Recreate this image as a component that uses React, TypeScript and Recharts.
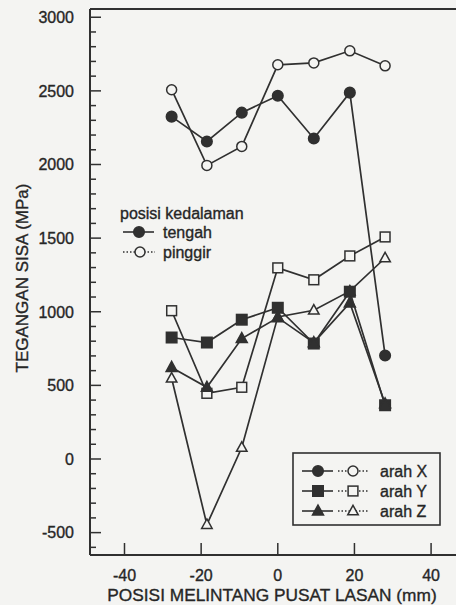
import React from 'react';
import { LineChart, Line, XAxis, YAxis, ReferenceLine, Customized } from 'recharts';

const positions = [-27.7, -18.5, -9.4, 0, 9.4, 18.8, 28];
const arahXTengah = [2325, 2156, 2352, 2467, 2177, 2488, 703];
const arahXPinggir = [2508, 1994, 2123, 2677, 2690, 2772, 2670];
const arahYTengah = [825, 791, 946, 1027, 784, 1136, 365];
const arahYPinggir = [1007, 446, 487, 1298, 1217, 1379, 1508];
const arahZTengah = [622, 487, 818, 960, 790, 1060, 375];
const arahZPinggir = [548, -446, 78, 965, 1010, 1140, 1365];

const xTicks = [-40, -20, 0, 20, 40];
const yMajorTicks = [-500, 0, 500, 1000, 1500, 2000, 2500, 3000];
const yAllTicks = [
  -600, -500, -400, -300, -200, -100, 0, 100, 200, 300, 400, 500, 600, 700, 800, 900,
  1000, 1100, 1200, 1300, 1400, 1500, 1600, 1700, 1800, 1900, 2000, 2100, 2200, 2300,
  2400, 2500, 2600, 2700, 2800, 2900, 3000,
];

const xTitle = 'POSISI MELINTANG PUSAT LASAN (mm)';
const yTitle = 'TEGANGAN SISA (MPa)';
const depthTitle = 'posisi kedalaman';
const depthLabels = ['tengah', 'pinggir'];
const dirLabels = ['arah X', 'arah Y', 'arah Z'];

const data = positions.map((p, i) => ({
  pos: p,
  xt: arahXTengah[i],
  xp: arahXPinggir[i],
  yt: arahYTengah[i],
  yp: arahYPinggir[i],
  zt: arahZTengah[i],
  zp: arahZPinggir[i],
}));

const BG = '#f4f4f2';
const INK = '#303030';
const TXT = '#262626';
const FONT = '"Liberation Sans", Arial, sans-serif';
const TSTROKE = { stroke: TXT, strokeWidth: 0.35 };

type Shape = 'circle' | 'square' | 'triangle';

const marker = (shape: Shape, filled: boolean, cx: number, cy: number, key?: string) => {
  const fill = filled ? INK : BG;
  const sw = 1.5;
  if (shape === 'circle') {
    return <circle key={key} cx={cx} cy={cy} r={filled ? 5.3 : 5} fill={fill} stroke={INK} strokeWidth={sw} />;
  }
  if (shape === 'square') {
    const s = filled ? 10.5 : 9.8;
    return <rect key={key} x={cx - s / 2} y={cy - s / 2} width={s} height={s} fill={fill} stroke={INK} strokeWidth={sw} />;
  }
  const h = filled ? 10 : 9.5;
  const w = filled ? 11 : 10.5;
  return (
    <polygon
      key={key}
      points={`${cx},${cy - h * 0.6} ${cx + w / 2},${cy + h * 0.4} ${cx - w / 2},${cy + h * 0.4}`}
      fill={fill}
      stroke={INK}
      strokeWidth={sw}
    />
  );
};

const dotFn = (shape: Shape, filled: boolean) => (props: any) => {
  const { cx, cy, index } = props;
  if (cx == null || cy == null) return <g key={`e${index}`} />;
  return marker(shape, filled, cx, cy, `${shape}-${filled}-${index}`);
};

const YTick = (props: any) => {
  const { x, y, payload } = props;
  const major = yMajorTicks.includes(payload.value);
  return (
    <g>
      <line x1={x} x2={x + (major ? 11 : 6)} y1={y} y2={y} stroke={INK} strokeWidth={1.5} />
      {major && (
        <text x={x - 16} y={y} dy="0.36em" textAnchor="end" fontSize={16} fontFamily={FONT} fill={TXT} {...TSTROKE}>
          {payload.value}
        </text>
      )}
    </g>
  );
};

const XTick = (props: any) => {
  const { x, y, payload } = props;
  return (
    <g>
      <line x1={x} x2={x} y1={y} y2={y - 12} stroke={INK} strokeWidth={1.5} />
      <text x={x} y={y + 20} dy="0.36em" textAnchor="middle" fontSize={16} fontFamily={FONT} fill={TXT} {...TSTROKE}>
        {payload.value}
      </text>
    </g>
  );
};

const Legends = () => {
  const shapes: Shape[] = ['circle', 'square', 'triangle'];
  return (
    <g fontFamily={FONT} fill={TXT}>
      <text x={120} y={213} dy="0.36em" fontSize={16} {...TSTROKE}>{depthTitle}</text>
      <line x1={123} x2={154} y1={232} y2={232} stroke={INK} strokeWidth={1.6} />
      {marker('circle', true, 139, 232)}
      <text x={163} y={232} dy="0.36em" fontSize={16} {...TSTROKE}>{depthLabels[0]}</text>
      <line x1={123} x2={155} y1={252} y2={252} stroke={INK} strokeWidth={1.4} strokeDasharray="1.5 2" />
      {marker('circle', false, 140, 252)}
      <text x={163} y={252} dy="0.36em" fontSize={16} {...TSTROKE}>{depthLabels[1]}</text>

      <rect x={293} y={453} width={147} height={72} fill={BG} stroke={INK} strokeWidth={1.6} />
      {dirLabels.map((lab, i) => {
        const yy = 471 + i * 20;
        return (
          <g key={lab}>
            <line x1={302} x2={333} y1={yy} y2={yy} stroke={INK} strokeWidth={1.6} />
            {marker(shapes[i], true, 318, yy)}
            <line x1={338} x2={368} y1={yy} y2={yy} stroke={INK} strokeWidth={1.4} strokeDasharray="1.5 2" />
            {marker(shapes[i], false, 353, yy)}
            <text x={380} y={yy} dy="0.36em" fontSize={16} {...TSTROKE}>{lab}</text>
          </g>
        );
      })}

      <text x={272} y={595} dy="0.36em" textAnchor="middle" fontSize={17.3} fontFamily={FONT} {...TSTROKE}>{xTitle}</text>
      <text
        x={22}
        y={278}
        dy="0.36em"
        textAnchor="middle"
        fontSize={17}
        fontFamily={FONT}
        transform="rotate(-90 22 278)"
        {...TSTROKE}
      >
        {yTitle}
      </text>
    </g>
  );
};

export default function App() {
  const lineProps = { type: 'linear' as const, stroke: INK, strokeWidth: 1.7, isAnimationActive: false };
  return (
    <div style={{ position: 'absolute', left: 0, top: 0, width: 456, height: 605, background: BG }}>
      <LineChart width={456} height={605} data={data} margin={{ top: 9, right: 0, bottom: 0, left: 0 }}>
        <XAxis
          dataKey="pos"
          type="number"
          domain={[-49, 46.5]}
          ticks={xTicks}
          allowDataOverflow
          height={50}
          tickSize={0}
          tickMargin={0}
          tickLine={false}
          axisLine={{ stroke: INK, strokeWidth: 2 }}
          tick={<XTick />}
          interval={0}
        />
        <YAxis
          type="number"
          domain={[-652, 3056]}
          ticks={yAllTicks}
          allowDataOverflow
          width={90}
          tickSize={0}
          tickMargin={0}
          tickLine={false}
          axisLine={{ stroke: INK, strokeWidth: 2 }}
          tick={<YTick />}
          interval={0}
        />
        <ReferenceLine y={3056} stroke={INK} strokeWidth={2.2} ifOverflow="extendDomain" />
        <Line dataKey="xp" {...lineProps} dot={dotFn('circle', false)} />
        <Line dataKey="yp" {...lineProps} dot={dotFn('square', false)} />
        <Line dataKey="zp" {...lineProps} dot={dotFn('triangle', false)} />
        <Line dataKey="xt" {...lineProps} dot={dotFn('circle', true)} />
        <Line dataKey="yt" {...lineProps} dot={dotFn('square', true)} />
        <Line dataKey="zt" {...lineProps} dot={dotFn('triangle', true)} />
        <Customized component={Legends} />
      </LineChart>
    </div>
  );
}
